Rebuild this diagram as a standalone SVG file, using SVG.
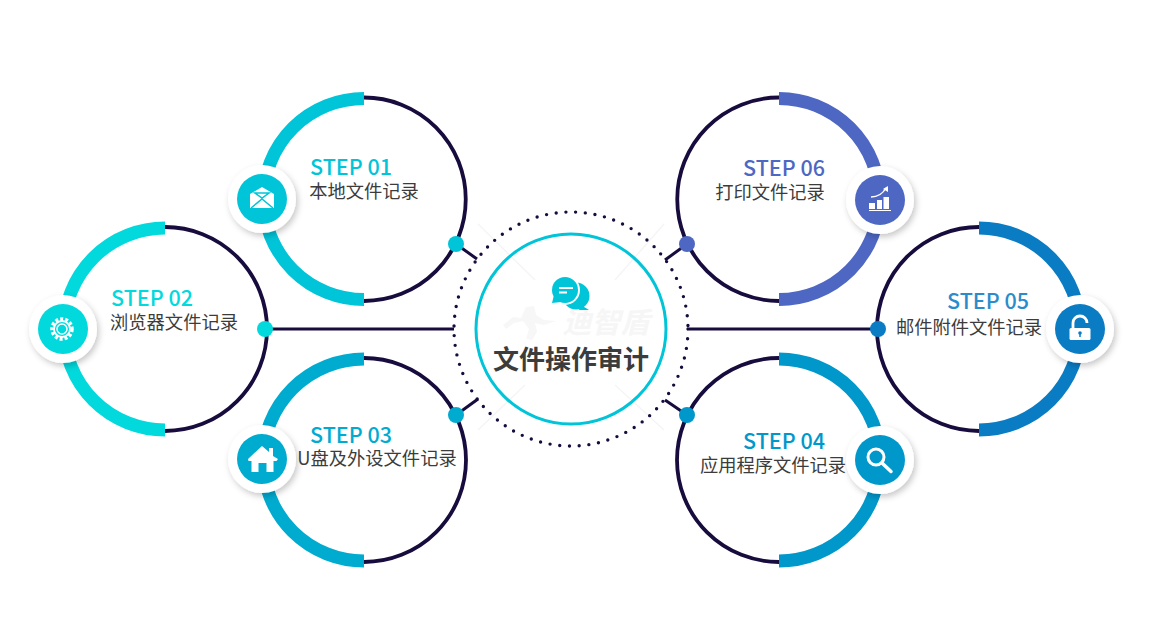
<svg xmlns="http://www.w3.org/2000/svg" width="1150" height="627" viewBox="0 0 1150 627">
<style>
.ring{fill:none;stroke:#170c3d;stroke-width:3.800}
.arc{fill:none;stroke-width:13}
.link{fill:none;stroke:#170c3d;stroke-width:3}
.halo{fill:#fff;filter:url(#sh)}
.step{font-family:"Noto Sans CJK SC","Noto Sans",sans-serif;font-size:21.500px;font-weight:500;text-anchor:middle}
.lab{font-family:"Noto Sans CJK SC","Noto Sans",sans-serif;font-size:18.300px;fill:#3c3c3c;text-anchor:middle}
.ic{fill:#fff}
.ics{fill:none;stroke:#fff}
.c1{fill:#00c4d8}.c2{fill:#02d9dc}.c3{fill:#00abd0}
.c4{fill:#0098cb}.c5{fill:#0a7cc4}.c6{fill:#4e67c3}
.s1{stroke:#00c4d8}.s2{stroke:#02d9dc}.s3{stroke:#00abd0}.s4{stroke:#0098cb}.s5{stroke:#0a7cc4}.s6{stroke:#4e67c3}
.t1{fill:#00c4d8}.t2{fill:#02d9dc}.t3{fill:#00abd0}.t4{fill:#0098cb}.t5{fill:#2a8ccb}.t6{fill:#4e67c3}
.wm{stroke:#f5f5f5;stroke-width:1.500;fill:none}
</style>
<defs>
<filter id="sh" x="-30%" y="-30%" width="170%" height="170%"><feDropShadow dx="2" dy="3" stdDeviation="3" flood-color="#000" flood-opacity="0.22"/></filter>
</defs>
<g id="connectors">
<path class="link" d="M456 244L477 259M456 415L478 399M687 244L665 260M687 415L665 400M265 329H454M878 329H689"/>
</g>
<g id="center">
<path class="wm" d="M478 224L535 280M664 224L615 280M478 430L525 385M664 430L615 385"/>
<path d="M503 325l10-8l8 1l5-11l8-1l2 9l8 5l12 1l-12 4l-9-2l2 9l-5 8l-6-1l3-10l-6-8l-9 2l-8 6z" fill="#f7f7f7"/>
<text x="606" y="333" font-family="'Noto Sans CJK SC',sans-serif" font-size="29" font-weight="700" font-style="italic" fill="#f6f6f6" text-anchor="middle">迪智盾</text>
<circle cx="571" cy="329" r="117" fill="none" stroke="#170c3d" stroke-width="3.400" stroke-linecap="round" stroke-dasharray="0 9.750"/>
<circle cx="571" cy="329" r="95" fill="none" stroke="#00c4d8" stroke-width="3"/>
<circle cx="576" cy="296" r="13.500" fill="#00c4d8"/><path d="M581 305l8 5l-10 0z" fill="#00c4d8"/>
<circle cx="565" cy="290" r="15" fill="#fff"/>
<circle cx="565" cy="290" r="13" fill="#00c4d8"/><path d="M552 303l2-8l7 7z" fill="#00c4d8"/>
<path d="M559 288h14M559 292.500h8" stroke="#fff" stroke-width="2" fill="none"/>
<text x="571" y="369" font-family="'Noto Sans CJK SC',sans-serif" font-size="26" font-weight="700" fill="#3c3c3c" text-anchor="middle">文件操作审计</text>
</g>
<g id="step1">
<path class="ring" d="M364 97.500A101.750 101.750 0 0 1 364 301"/>
<path class="arc s1" d="M364 98.500A100.500 100.500 0 0 0 364 299.500"/>
<circle cx="456" cy="244" r="8" class="c1"/>
<circle class="halo" cx="262" cy="199" r="34"/><circle cx="262" cy="199" r="25" class="c1"/>
<path class="ic" d="M262 187l12 7v14h-24v-14z"/>
<path d="M255 193h14l-7 5zM251 208l11-9l11 9" fill="none" stroke="#00c4d8" stroke-width="1.500"/>
<text class="step t1" x="351" y="175">STEP 01</text><text class="lab" x="364" y="198">本地文件记录</text>
</g>
<g id="step2">
<path class="ring" d="M165 227A102 102 0 0 1 165 431"/>
<path class="arc s2" d="M165 228A101 101 0 0 0 165 430"/>
<circle cx="265" cy="329" r="8" class="c2"/>
<circle class="halo" cx="63" cy="329" r="34"/><circle cx="63" cy="329" r="25" class="c2"/>
<circle class="ics" cx="62" cy="329" r="10" stroke-width="3.500" stroke-dasharray="3 2"/>
<circle class="ics" cx="62" cy="329" r="8" stroke-width="1.800"/>
<circle class="ics" cx="62" cy="329" r="5" stroke-width="1.500"/>
<text class="step t2" x="152" y="306">STEP 02</text><text class="lab" x="174" y="329">浏览器文件记录</text>
</g>
<g id="step3">
<path class="ring" d="M364 358A102 102 0 0 1 364 562"/>
<path class="arc s3" d="M364 359A101 101 0 0 0 364 561"/>
<circle cx="456" cy="415" r="8" class="c3"/>
<circle class="halo" cx="262" cy="459" r="34"/><circle cx="262" cy="459" r="25" class="c3"/>
<path class="ic" d="M248 459l14-13l7 6v-4h4v8l5 3l-1.500 2h-3v11h-7v-9h-8v9h-7v-11h-3z"/>
<text class="step t3" x="351" y="443">STEP 03</text><text class="lab" x="377" y="465">U盘及外设文件记录</text>
</g>
<g id="step4">
<path class="ring" d="M779 358A102 102 0 0 0 779 562"/>
<path class="arc s4" d="M779 359A101 101 0 0 1 779 561"/>
<circle cx="687" cy="415" r="8" class="c4"/>
<circle class="halo" cx="880" cy="460" r="34"/><circle cx="880" cy="460" r="25" class="c4"/>
<circle class="ics" cx="876" cy="457" r="8" stroke-width="3"/>
<path class="ics" d="M882 463l9 8.500" stroke-width="3.500" stroke-linecap="round"/>
<text class="step t4" x="784" y="449">STEP 04</text><text class="lab" x="773" y="472">应用程序文件记录</text>
</g>
<g id="step5">
<path class="ring" d="M979 227A102 102 0 0 0 979 431"/>
<path class="arc s5" d="M979 228A101 101 0 0 1 979 430"/>
<circle cx="878" cy="329" r="8" class="c5"/>
<circle class="halo" cx="1080" cy="329" r="34"/><circle cx="1080" cy="329" r="25" class="c5"/>
<path class="ic" d="M1071 328h18a1.500 1.500 0 0 1 1.500 1.500v9a1.500 1.500 0 0 1-1.500 1.500h-18a1.500 1.500 0 0 1-1.500-1.500v-9a1.500 1.500 0 0 1 1.500-1.500z"/>
<path class="ics" d="M1073 328v-5a7 7 0 0 1 14 0" stroke-width="2.800"/>
<circle cx="1080" cy="333" r="1.800" class="c5"/><path d="M1080 333v4" stroke="#0a7cc4" stroke-width="1.500"/>
<text class="step t5" x="988" y="309">STEP 05</text><text class="lab" x="969" y="334">邮件附件文件记录</text>
</g>
<g id="step6">
<path class="ring" d="M779 97.500A101.750 101.750 0 0 0 779 301"/>
<path class="arc s6" d="M779 98.500A100.500 100.500 0 0 1 779 299.500"/>
<circle cx="687" cy="244" r="8" class="c6"/>
<circle class="halo" cx="880" cy="200" r="34"/><circle cx="880" cy="200" r="25" class="c6"/>
<path class="ic" d="M869 203h6v6h-6zM877 200h5v9h-5zM883.500 197h5.500v12h-5.500z"/><path class="ics" d="M869 210.500h22" stroke-width="1"/>
<path class="ics" d="M871 197c6 0 11-2 15-9" stroke-width="1.500"/><path class="ic" d="M883 189l5-3l0 6z"/>
<text class="step t6" x="784" y="176">STEP 06</text><text class="lab" x="770" y="199">打印文件记录</text>
</g>
</svg>
